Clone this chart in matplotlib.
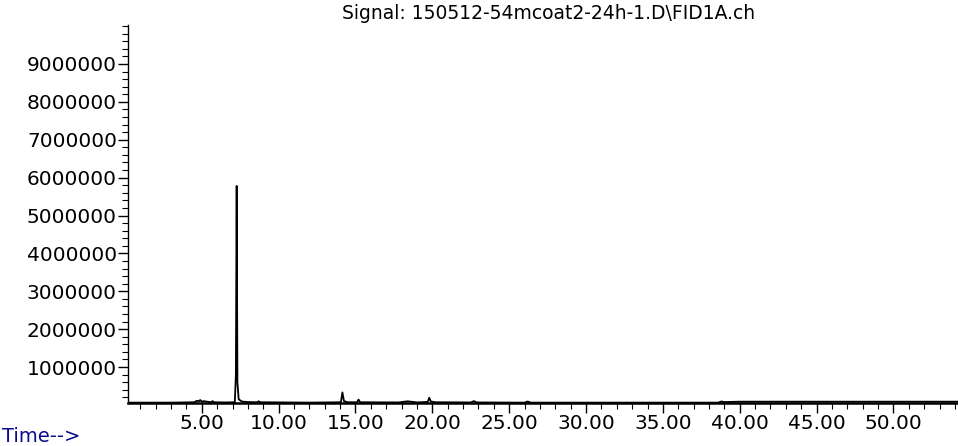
import matplotlib.pyplot as plt
from matplotlib.ticker import MultipleLocator, FixedLocator

plt.rcParams["font.family"] = ["DejaVu Sans"]

TITLE = "Signal: 150512-54mcoat2-24h-1.D\\FID1A.ch"

# chromatogram trace (min, counts)
time_min = [0.2, 3.0, 4.5, 4.7, 4.8, 4.9, 5.0, 5.1, 5.6, 5.7, 5.8, 6.5, 7.15, 7.22, 7.27,
            7.32, 7.40, 7.6, 8.0, 8.6, 8.7, 8.8, 12.0, 14.05, 14.15, 14.25, 14.5,
            15.1, 15.2, 15.3, 17.8, 18.4, 19.0, 19.7, 19.8, 19.9, 20.2, 22.5, 22.7,
            22.9, 26.0, 26.2, 26.4, 38.6, 38.8, 39.0, 40.0, 54.2]
signal = [60000, 60000, 70000, 110000, 90000, 130000, 80000, 100000, 70000, 100000, 70000,
          65000, 70000, 800000, 5780000, 600000, 150000, 90000, 75000, 70000, 95000,
          70000, 60000, 70000, 330000, 100000, 70000, 70000, 140000, 70000, 65000, 95000,
          65000, 80000, 190000, 90000, 70000, 65000, 100000, 65000, 60000, 90000, 60000,
          60000, 90000, 75000, 85000, 85000]

x_major = [5, 10, 15, 20, 25, 30, 35, 40, 45, 50]
x_labels = ["5.00", "10.00", "15.00", "20.00", "25.00", "30.00", "35.00", "40.00", "45.00", "50.00"]
y_major = [1000000, 2000000, 3000000, 4000000, 5000000, 6000000, 7000000, 8000000, 9000000]

fig = plt.figure(figsize=(9.58, 4.46), dpi=100)
ax = fig.add_axes([0.1336, 0.0964, 0.8664, 0.8476])

ax.plot(time_min, signal, color="black", lw=1.3)

ax.set_xlim(0.2, 54.2)
ax.set_ylim(50000, 10030000)

ax.xaxis.set_major_locator(FixedLocator(x_major))
ax.set_xticklabels(x_labels)
ax.xaxis.set_minor_locator(MultipleLocator(1))
ax.yaxis.set_major_locator(FixedLocator(y_major))
ax.set_yticklabels([str(v) for v in y_major])
ax.yaxis.set_minor_locator(MultipleLocator(200000))

for s in ["top", "right"]:
    ax.spines[s].set_visible(False)
ax.spines["left"].set_linewidth(1.0)
ax.spines["bottom"].set_linewidth(1.8)

ax.tick_params(axis="both", which="major", length=7, width=1.0, labelsize=14.5, colors="black")
ax.tick_params(axis="both", which="minor", length=4, width=0.8)
ax.tick_params(axis="x", which="major", pad=1)
ax.tick_params(axis="y", which="major", pad=1)

fig.text(0.573, 0.970, TITLE, ha="center", va="center", fontsize=13.5)
fig.text(0.002, 0.022, "Time-->", ha="left", va="center", fontsize=14, color="#0A0A8C")

fig.savefig("out.png", dpi=100)
